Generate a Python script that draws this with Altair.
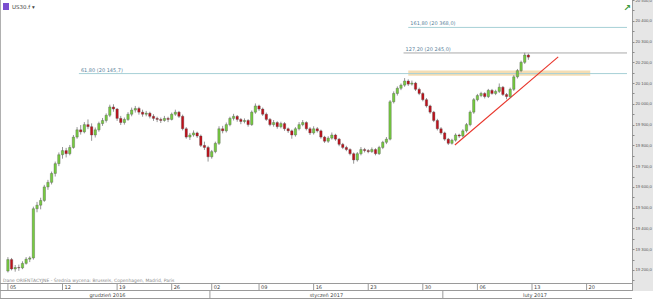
import altair as alt
import pandas as pd

# ---------------- data ----------------
opens = [19195,19250,19205,19212,19210,19232,19252,19258,19495,19512,19535,19600,19622,19665,19712,
         19755,19775,19760,19790,19840,19875,19865,19900,19890,19850,19875,19905,19920,19945,19985,
         19975,19930,19910,19925,19950,19970,19978,19960,19950,19955,19940,19930,19925,19920,19930,
         19925,19950,19960,19940,19880,19840,19850,19860,19845,19800,19790,
         19745,19770,19810,19880,19870,19900,19930,19940,19925,19915,19920,19900,19960,
         19990,19975,19950,19925,19900,19910,19890,19905,19880,19870,19850,19880,19900,19910,19880,
         19860,19880,19870,19840,19820,19835,19850,19830,19805,19790,19780,19760,19730,19760,19780,
         19775,19770,19780,19760,19790,19815,19830,20010,20050,20075,20090,20110,20095,20100,20070,
         20050,20020,19990,19960,19920,19880,19860,19830,19810,19825,19850,19845,19870,19900,19960,
         20020,20040,20050,20035,20065,20050,20060,20080,20045,20035,20070,20130,20160,20200,20235]
highs = [19262,19258,19224,19226,19242,19262,19266,19505,19528,19548,19610,19634,19674,19722,19766,
         19792,19788,19802,19850,19888,19898,19912,19925,19906,19886,19914,19932,19954,19996,19998,
         19980,19942,19934,19960,19982,19990,19986,19972,19966,19962,19950,19938,19934,19942,19938,
         19958,19972,19966,19948,19888,19860,19872,19866,19852,19818,19798,
         19778,19818,19892,19894,19910,19938,19952,19946,19932,19930,19926,19968,20002,
         19996,19982,19958,19932,19922,19916,19914,19912,19886,19876,19888,19912,19922,19916,19888,
         19892,19888,19876,19846,19844,19862,19856,19836,19812,19798,19786,19766,19768,19792,19788,
         19782,19790,19786,19798,19822,19840,20018,20060,20084,20098,20124,20118,20112,20106,20078,
         20056,20028,19996,19966,19928,19888,19866,19836,19832,19858,19856,19878,19908,19968,20028,
         20048,20058,20056,20072,20072,20068,20098,20086,20052,20078,20138,20168,20208,20246,20242]
lows = [19188,19198,19192,19196,19204,19226,19238,19250,19478,19492,19528,19586,19612,19650,19700,
        19736,19742,19752,19784,19832,19852,19858,19878,19822,19838,19866,19894,19910,19936,19962,
        19918,19898,19900,19918,19940,19958,19948,19938,19940,19930,19918,19912,19908,19914,19912,
        19920,19942,19932,19872,19832,19826,19842,19836,19792,19778,19722,
        19736,19762,19802,19858,19862,19892,19920,19914,19902,19906,19890,19894,19952,
        19966,19942,19918,19892,19890,19880,19882,19870,19860,19832,19842,19872,19892,19872,19850,
        19852,19862,19832,19812,19812,19828,19822,19796,19782,19772,19752,19712,19722,19752,19766,
        19762,19764,19752,19754,19782,19806,19824,20002,20040,20066,20082,20086,20088,20062,20042,
        20012,19982,19952,19912,19872,19852,19822,19802,19804,19818,19836,19838,19862,19892,19952,
        20012,20032,20026,20028,20044,20042,20052,20038,20022,20028,20062,20122,20152,20192,20212]
closes = [19250,19205,19212,19210,19232,19252,19258,19495,19512,19535,19600,19622,19665,19712,19755,
          19775,19760,19790,19840,19875,19865,19900,19890,19850,19875,19905,19920,19945,19985,19975,
          19930,19910,19925,19950,19970,19978,19960,19950,19955,19940,19930,19925,19920,19930,19925,
          19950,19960,19940,19880,19840,19850,19860,19845,19800,19790,19745,
          19770,19810,19880,19870,19900,19930,19940,19925,19915,19920,19900,19960,19990,
          19975,19950,19925,19900,19910,19890,19905,19880,19870,19850,19880,19900,19910,19880,19860,
          19880,19870,19840,19820,19835,19850,19830,19805,19790,19780,19760,19730,19760,19780,19775,
          19770,19780,19760,19790,19815,19830,20010,20050,20075,20090,20110,20095,20100,20070,20050,
          20020,19990,19960,19920,19880,19860,19830,19810,19825,19850,19845,19870,19900,19960,20020,
          20040,20050,20035,20065,20050,20060,20080,20045,20035,20070,20130,20160,20200,20235,20225]

tick_idx = [0, 15, 30, 45, 56, 69, 84, 99, 114, 129, 144, 159]
tick_lbl = ["05", "12", "19", "26", "02", "09", "16", "23", "30", "06", "13", "20"]

month_names = ["grudzień 2016", "styczeń 2017", "luty 2017"]
month_start = [-0.8, 55.5, 119.5]
month_end = [55.5, 119.5, 170.1]

fib_lbl = ["161,80 (20 368,0)", "127,20 (20 245,0)", "61,80 (20 145,7)"]
fib_price = [20368, 20245, 20145.7]
fib_start = [110, 108.7, 19.5]
fib_kind = ["a", "b", "a"]

zone_start = [110]
zone_end = [160]
zone_lo = [20135]
zone_hi = [20160]

trend_idx = [122.8, 151.2]
trend_price = [19802, 20226]

X_MIN, X_MAX = -0.8, 170.1
Y_MIN, Y_MAX = 19137.4, 20500

W, H = 632, 283

# ---------------- tables ----------------
n = len(closes)
candles = pd.DataFrame({
    "i": list(range(n)), "o": opens, "h": highs, "l": lows, "c": closes,
})

ticks = pd.DataFrame({"i": tick_idx, "t": tick_lbl})
months = pd.DataFrame({"m": month_names, "s": month_start, "e": month_end})
months["mid"] = (months["s"] + months["e"]) / 2
msep = months[months["s"] > X_MIN]
fibs = pd.DataFrame({"lbl": fib_lbl, "p": fib_price, "s": fib_start, "k": fib_kind})
fibs["e"] = X_MAX
zone = pd.DataFrame({"s": zone_start, "e": zone_end, "lo": zone_lo, "hi": zone_hi})
trend = pd.DataFrame({"i": trend_idx, "p": trend_price})
one = pd.DataFrame({"a": [0]})

xs = alt.Scale(domain=[X_MIN, X_MAX], nice=False, zero=False)
ys = alt.Scale(domain=[Y_MIN, Y_MAX], nice=False, zero=False)

label_expr = ("datum.value % 100 == 0 ? replace(replace(format(datum.value, ',.1f'), ',', ' '), '.', ',') : ''")

yaxis = alt.Axis(orient="right", values=list(range(19150, 20501, 50)), labelExpr=label_expr,
                 tickSize=2, tickColor="#8a8a8a", labelFontSize=4.2, labelColor="#555555",
                 labelFont="Liberation Sans", labelPadding=1, domain=False, grid=False,
                 title=None, zindex=2, labelOverlap=False)

# right panel background
panel = alt.Chart(one).mark_rect(color="#e6e6e6").encode(
    x=alt.value(W), x2=alt.value(653), y=alt.value(0), y2=alt.value(291))
panel_edge = alt.Chart(one).mark_rule(color="#9a9a9a", strokeWidth=1).encode(
    x=alt.value(W + 0.5), y=alt.value(0), y2=alt.value(291))
left_edge = alt.Chart(one).mark_rule(color="#b0b0b0", strokeWidth=1).encode(
    x=alt.value(0.5), y=alt.value(0), y2=alt.value(299))

zone_l = alt.Chart(zone).mark_rect(color="#f2d7a6", opacity=0.85).encode(
    x=alt.X("s:Q", scale=xs, axis=None), x2="e:Q",
    y=alt.Y("lo:Q", scale=ys, axis=yaxis), y2="hi:Q")

fib_rules = alt.Chart(fibs).mark_rule(strokeWidth=1).encode(
    x=alt.X("s:Q", scale=xs, axis=None), x2="e:Q",
    y=alt.Y("p:Q", scale=ys, axis=yaxis),
    color=alt.condition("datum.k == 'a'", alt.value("#a6d0d6"), alt.value("#a9a9a9")))
fib_text = alt.Chart(fibs).mark_text(align="left", baseline="bottom", dx=2, dy=-1, fontSize=5,
                                     font="DejaVu Sans", color="#5a7f9a").encode(
    x=alt.X("s:Q", scale=xs, axis=None), y=alt.Y("p:Q", scale=ys, axis=yaxis), text="lbl:N")

trend_l = alt.Chart(trend).mark_line(color="#e8352b", strokeWidth=1.1).encode(
    x=alt.X("i:Q", scale=xs, axis=None), y=alt.Y("p:Q", scale=ys, axis=yaxis))

wicks = alt.Chart(candles).mark_rule(color="#7a7a7a", strokeWidth=0.8).encode(
    x=alt.X("i:Q", scale=xs, axis=None), y=alt.Y("l:Q", scale=ys, axis=yaxis), y2="h:Q")
bodies = alt.Chart(candles).mark_bar(size=2.4, stroke="#4a4a4a", strokeWidth=0.35).encode(
    x=alt.X("i:Q", scale=xs, axis=None), y=alt.Y("o:Q", scale=ys, axis=yaxis), y2="c:Q",
    color=alt.condition("datum.c >= datum.o", alt.value("#76cc3f"), alt.value("#c0101a")))

# bottom time axis (two rows)
hlines = alt.Chart(pd.DataFrame({"yy": [283.5, 290.5, 298.5]})).mark_rule(color="#9a9a9a", strokeWidth=1).encode(
    x=alt.value(0), x2=alt.value(W), y=alt.Y("yy:Q", scale=None))
tick_rules = alt.Chart(ticks).mark_rule(color="#9a9a9a", strokeWidth=1).encode(
    x=alt.X("i:Q", scale=xs, axis=None), y=alt.value(283.5), y2=alt.value(290.5))
tick_text = alt.Chart(ticks).mark_text(align="left", baseline="middle", dx=2, fontSize=5,
                                       font="DejaVu Sans", color="#444").encode(
    x=alt.X("i:Q", scale=xs, axis=None), y=alt.value(287.2), text="t:N")
month_rules = alt.Chart(msep).mark_rule(color="#9a9a9a", strokeWidth=1).encode(
    x=alt.X("s:Q", scale=xs, axis=None), y=alt.value(290.5), y2=alt.value(298.5))
month_text = alt.Chart(months).mark_text(align="center", baseline="middle", fontSize=5,
                                         font="DejaVu Sans", color="#444").encode(
    x=alt.X("mid:Q", scale=xs, axis=None), y=alt.value(294.7), text="m:N")

attrib = alt.Chart(one).mark_text(align="left", baseline="middle", fontSize=4.5, font="DejaVu Sans",
                                  color="#8a8a8a").encode(
    x=alt.value(3), y=alt.value(280.5),
    text=alt.value("Dane ORIENTACYJNE - Średnia wycena: Brussels, Copenhagen, Madrid, Paris"))

icon = alt.Chart(one).mark_rect(color="#7b4fd0").encode(
    x=alt.value(3), x2=alt.value(9), y=alt.value(3), y2=alt.value(10))
title = alt.Chart(one).mark_text(align="left", baseline="middle", fontSize=5.5, font="DejaVu Sans",
                                 color="#444").encode(
    x=alt.value(12), y=alt.value(6.5), text=alt.value("US30.f  ▾"))
arrow = alt.Chart(one).mark_text(align="center", baseline="middle", fontSize=9, font="DejaVu Sans",
                                 color="#3c9a3c", fontWeight="bold").encode(
    x=alt.value(627), y=alt.value(8), text=alt.value("↗"))

chart = alt.layer(
    panel, panel_edge, left_edge, zone_l, fib_rules, fib_text, trend_l, wicks, bodies,
    hlines, tick_rules, tick_text, month_rules, month_text, attrib, icon, title, arrow,
).properties(
    width=W, height=H,
    autosize=alt.AutoSizeParams(type="none"),
    padding={"left": 0, "top": 0, "right": 21, "bottom": 17},
    background="white",
).configure_view(stroke=None)

chart.save("out.html", embed_options={"renderer": "svg", "actions": False})
